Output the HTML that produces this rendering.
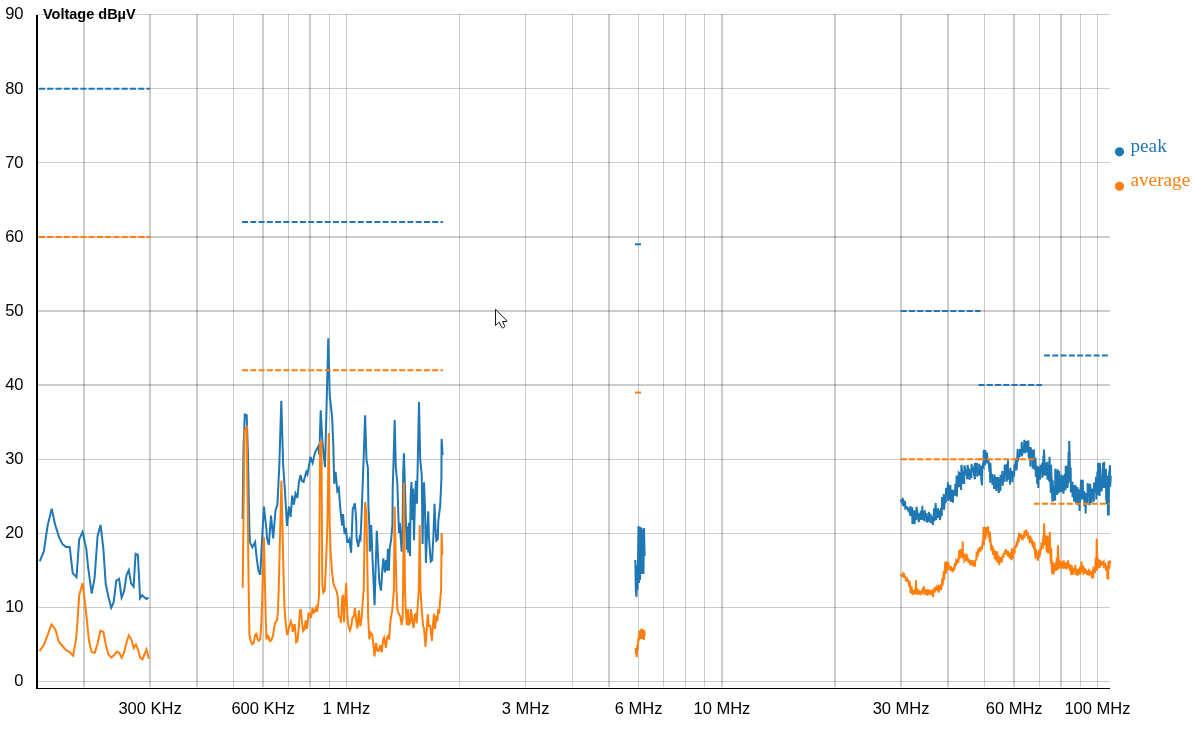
<!DOCTYPE html>
<html><head><meta charset="utf-8"><title>chart</title>
<style>html,body{margin:0;padding:0;background:#fff;overflow:hidden}svg{display:block;will-change:transform}</style></head>
<body>
<svg width="1195" height="736" viewBox="0 0 1195 736">
<rect width="1195" height="736" fill="#fff"/>
<g fill="#000" fill-opacity="0.2" shape-rendering="crispEdges">
<rect x="83" y="14" width="2" height="673"/>
<rect x="149" y="14" width="2" height="673"/>
<rect x="196" y="14" width="2" height="673"/>
<rect x="233" y="14" width="1" height="673"/>
<rect x="262" y="14" width="2" height="673"/>
<rect x="288" y="14" width="1" height="673"/>
<rect x="309" y="14" width="2" height="673"/>
<rect x="329" y="14" width="1" height="673"/>
<rect x="346" y="14" width="1" height="673"/>
<rect x="459" y="14" width="1" height="673"/>
<rect x="525" y="14" width="1" height="673"/>
<rect x="572" y="14" width="1" height="673"/>
<rect x="608" y="14" width="2" height="673"/>
<rect x="638" y="14" width="1" height="673"/>
<rect x="663" y="14" width="1" height="673"/>
<rect x="685" y="14" width="1" height="673"/>
<rect x="704" y="14" width="1" height="673"/>
<rect x="721" y="14" width="2" height="673"/>
<rect x="834" y="14" width="2" height="673"/>
<rect x="900" y="14" width="2" height="673"/>
<rect x="947" y="14" width="2" height="673"/>
<rect x="984" y="14" width="1" height="673"/>
<rect x="1013" y="14" width="2" height="673"/>
<rect x="1039" y="14" width="1" height="673"/>
<rect x="1060" y="14" width="2" height="673"/>
<rect x="1080" y="14" width="1" height="673"/>
<rect x="1097" y="14" width="1" height="673"/>
<rect x="37" y="681" width="1073" height="1"/>
<rect x="37" y="607" width="1073" height="1"/>
<rect x="37" y="533" width="1073" height="1"/>
<rect x="37" y="459" width="1073" height="1"/>
<rect x="37" y="384" width="1073" height="2"/>
<rect x="37" y="310" width="1073" height="2"/>
<rect x="37" y="236" width="1073" height="2"/>
<rect x="37" y="162" width="1073" height="1"/>
<rect x="37" y="88" width="1073" height="1"/>
<rect x="37" y="14" width="1073" height="1"/>
</g>
<rect x="36" y="15" width="2" height="674.0" fill="#000"/>
<rect x="36" y="688" width="1074.0" height="1" fill="#000"/>
<g font-family="'Liberation Sans', sans-serif" font-size="16.5px" fill="#000">
<text x="23.5" y="686.45" text-anchor="end">0</text>
<text x="23.5" y="612.34" text-anchor="end">10</text>
<text x="23.5" y="538.23" text-anchor="end">20</text>
<text x="23.5" y="464.12" text-anchor="end">30</text>
<text x="23.5" y="390.01" text-anchor="end">40</text>
<text x="23.5" y="315.89" text-anchor="end">50</text>
<text x="23.5" y="241.78" text-anchor="end">60</text>
<text x="23.5" y="167.67" text-anchor="end">70</text>
<text x="23.5" y="93.56" text-anchor="end">80</text>
<text x="23.5" y="19.45" text-anchor="end">90</text>
<text x="150.04" y="714" text-anchor="middle">300 KHz</text>
<text x="263.09" y="714" text-anchor="middle">600 KHz</text>
<text x="346.40" y="714" text-anchor="middle">1 MHz</text>
<text x="525.57" y="714" text-anchor="middle">3 MHz</text>
<text x="638.61" y="714" text-anchor="middle">6 MHz</text>
<text x="721.92" y="714" text-anchor="middle">10 MHz</text>
<text x="901.09" y="714" text-anchor="middle">30 MHz</text>
<text x="1014.14" y="714" text-anchor="middle">60 MHz</text>
<text x="1097.45" y="714" text-anchor="middle">100 MHz</text>
</g>
<text x="43" y="18.6" font-family="'Liberation Sans', sans-serif" font-size="14px" font-weight="bold" fill="#000" textLength="92.6" lengthAdjust="spacingAndGlyphs">Voltage dBµV</text>
<g font-family="'Liberation Serif', serif" font-size="19.2px">
<circle cx="1119.5" cy="151.8" r="4.6" fill="#1f77b4"/>
<text x="1130.5" y="151.8" fill="#1f77b4">peak</text>
<circle cx="1119.5" cy="186.3" r="4.6" fill="#ff7f0e"/>
<text x="1130.5" y="185.5" fill="#ff7f0e">average</text>
</g>
<g fill="none" stroke="#1f77b4" stroke-width="2">
<path d="M39.7,561.4L43.8,551.4L47.6,525.8L51.7,508.8L55.1,524.5L59.1,537.4L62.5,544.2L65.9,546.9L69.7,546.9L72.7,573.1L76.5,577.2L79.2,539.4L82.6,531.9L86.3,548.9L88.1,567.1L91.7,593.6L94.6,577.9L97.6,535.8L100.6,524.9L103.4,549.4L105.7,584.0L108.5,597.0L111.2,607.8L113.6,602.4L116.3,580.7L119.1,579.0L121.6,597.6L124.1,591.5L126.5,575.2L128.8,570.2L131.1,583.4L133.6,586.8L135.6,553.8L137.9,554.8L140.1,598.3L142.2,595.3L144.5,597.4L146.5,599.0L148.5,597.6"/>
<path d="M242.6,519.0L243.5,448.0L244.8,414.5L246.7,415.2L248.0,455.8L249.4,530.0L249.9,542.1L252.3,547.3L255.1,542.1L256.5,556.4L258.4,570.6L260.3,574.9L261.8,544.0L263.9,506.6L266.5,530.0L267.0,538.3L268.9,545.0L271.0,515.6L273.2,538.3L275.5,510.4L277.4,504.7L279.3,465.7L281.3,400.9L283.2,465.7L285.1,493.3L287.0,526.0L288.9,506.6L290.6,517.0L292.2,495.6L293.9,504.7L295.5,493.5L297.4,498.0L298.8,482.8L300.5,475.0L301.9,480.9L303.6,481.9L305.0,476.6L306.3,471.9L307.4,474.3L308.8,466.7L310.4,456.8L312.6,463.0L315.0,452.5L318.3,446.3L319.3,455.0L320.7,410.2L322.3,440.0L324.0,458.2L325.0,467.1L328.3,338.3L329.7,395.0L332.1,416.9L333.3,445.0L334.2,483.8L335.6,471.9L337.3,490.9L338.8,488.0L340.2,507.5L342.1,525.6L343.0,514.2L344.5,534.0L345.9,527.9L347.3,542.1L348.0,542.1L349.4,539.3L351.1,552.6L352.7,509.4L354.9,503.3L356.3,521.8L356.5,537.4L358.2,546.9L359.7,537.4L360.5,539.0L361.3,521.0L362.9,479.0L364.1,445.0L365.1,415.2L366.5,460.0L367.9,467.6L368.4,505.6L369.4,526.5L369.8,551.6L371.2,525.0L372.7,563.0L374.6,605.2L375.5,572.5L376.8,530.7L377.9,553.5L379.3,582.0L381.0,590.6L382.2,571.6L383.4,558.3L384.9,572.5L386.0,560.2L387.0,570.6L387.9,548.8L388.9,570.6L389.8,547.8L391.2,539.3L392.4,525.0L392.7,488.5L393.6,460.0L394.7,419.9L395.8,467.0L397.4,484.0L398.4,517.0L399.0,533.0L399.8,522.7L400.7,537.4L401.7,551.6L402.6,525.0L403.2,472.4L403.9,453.2L405.0,488.5L406.0,525.0L406.9,549.7L407.6,526.5L408.3,552.6L408.8,522.7L410.0,555.9L410.6,498.0L411.5,481.9L412.3,520.0L413.1,488.5L414.0,540.2L415.0,500.0L415.9,480.9L416.9,503.7L417.8,460.0L419.0,402.1L420.2,460.0L421.7,474.3L422.6,544.0L423.3,500.0L424.0,482.3L425.0,507.5L425.9,563.0L427.2,530.0L428.3,511.3L428.8,534.5L430.7,561.6L432.1,560.2L433.5,534.5L434.5,503.9L435.5,528.0L436.4,540.7L437.8,539.3L438.3,520.8L440.2,505.6L441.4,479.0L441.6,438.9L442.6,455.0"/>
<path d="M635.3,560.0L635.8,590.0L636.5,597.0L637.0,565.0L637.5,590.0L638.0,560.0L638.5,526.0L639.0,583.0L639.5,528.0L640.0,580.0L640.5,527.0L641.0,574.0L641.5,528.0L642.2,534.0L642.6,574.0L643.0,530.0L643.5,574.0L644.0,528.0L644.6,556.0"/>
<path d="M900.8,499.6L901.0,500.3L901.6,501.6L902.2,500.3L903.0,505.8L903.3,500.1L903.8,501.0L904.4,506.7L905.1,501.1L905.3,508.3L905.8,507.9L906.4,506.1L906.8,508.4L907.5,508.0L908.1,509.8L908.4,508.2L908.9,509.8L909.4,510.4L909.9,507.7L910.2,516.0L910.4,506.2L910.9,511.9L911.4,515.8L912.2,507.2L912.4,524.1L913.0,518.9L913.5,510.5L914.0,518.5L914.2,510.2L914.5,524.1L915.0,518.1L915.6,511.0L916.3,520.0L916.5,506.7L917.2,511.4L917.8,518.2L918.3,513.3L918.6,522.1L919.2,519.5L920.0,513.6L920.4,520.0L920.6,512.3L921.3,511.3L921.9,518.8L922.4,505.7L922.6,520.0L923.3,516.0L924.1,511.7L924.4,521.1L924.7,510.2L925.3,514.9L925.9,517.6L926.5,513.3L926.7,522.6L927.3,518.8L927.8,516.3L928.5,522.1L928.8,511.8L929.5,517.1L930.0,520.3L930.6,513.8L930.8,523.1L931.2,521.0L931.7,516.3L932.2,520.8L932.6,516.4L932.8,525.1L933.3,520.8L934.1,508.2L934.4,521.1L934.8,516.6L935.7,503.1L935.9,520.0L936.6,512.9L937.4,509.4L937.7,518.0L937.9,508.2L938.5,513.6L939.3,518.0L939.7,510.2L940.0,520.0L940.5,516.5L941.1,507.5L941.8,516.0L942.0,497.0L942.4,501.0L943.0,506.8L943.8,493.9L944.0,509.8L944.7,502.3L945.4,495.5L945.8,502.7L946.1,487.8L946.8,492.6L947.6,493.4L947.9,482.2L948.1,500.7L948.7,498.7L949.4,485.5L949.8,498.4L950.4,484.8L950.7,501.7L951.2,500.3L951.6,489.6L952.1,499.0L952.6,495.7L953.0,502.7L953.2,490.9L953.7,491.1L954.3,495.8L954.7,490.6L955.0,495.6L955.3,483.7L955.8,484.8L956.3,494.0L956.6,475.6L956.8,496.6L957.3,485.1L957.8,475.5L958.6,487.4L958.8,472.5L959.4,473.0L960.1,486.9L960.7,478.5L961.1,490.0L961.4,464.9L962.0,469.6L962.6,483.8L963.3,471.8L964.2,483.9L964.4,465.4L965.0,468.5L965.7,473.1L966.5,471.9L967.3,479.3L967.5,464.9L968.2,468.7L968.8,476.7L969.3,468.5L969.5,479.8L970.0,476.8L970.5,471.1L971.3,478.2L971.6,463.9L972.1,471.3L972.9,471.3L973.5,467.3L974.0,476.0L974.4,465.4L974.6,478.2L974.9,478.2L975.1,462.8L975.8,469.6L976.4,471.7L976.9,462.8L977.2,476.7L977.6,471.3L978.4,468.9L979.0,475.6L979.2,463.8L979.8,466.5L980.5,474.9L981.0,465.8L981.2,478.7L982.0,485.3L982.3,469.9L982.8,465.3L983.5,466.5L983.8,450.0L984.4,452.5L985.1,465.4L985.3,450.0L985.8,457.6L986.5,462.3L987.1,452.6L987.4,463.4L988.1,461.6L988.6,459.7L988.9,465.4L989.5,471.9L989.9,470.6L990.2,482.8L990.4,462.8L991.0,475.1L991.6,477.4L992.2,474.0L992.4,484.8L992.9,483.7L993.5,476.7L994.2,488.9L994.5,474.5L995.0,479.1L995.5,483.1L996.1,480.6L996.3,490.9L996.5,477.1L997.2,481.0L998.0,487.8L998.3,477.1L998.6,493.0L999.2,490.9L999.8,478.9L1000.4,490.9L1000.6,476.0L1001.3,476.4L1001.9,481.3L1002.4,470.9L1002.6,485.8L1003.2,479.6L1003.8,474.1L1004.4,481.7L1004.7,464.8L1005.3,467.8L1005.8,474.2L1006.5,463.8L1006.7,481.7L1007.3,472.9L1008.0,460.2L1008.2,479.7L1008.8,474.8L1009.4,470.7L1010.0,484.8L1010.3,467.9L1010.9,473.7L1011.5,476.5L1012.1,470.9L1012.3,482.3L1013.0,474.4L1013.6,471.2L1014.1,476.7L1014.4,465.8L1015.1,464.2L1015.5,469.4L1016.2,457.7L1016.4,470.5L1016.9,465.3L1017.7,449.0L1017.9,461.4L1018.6,454.6L1019.1,452.9L1019.7,457.3L1020.0,449.0L1020.5,451.7L1021.2,454.4L1021.8,441.9L1022.0,456.3L1022.6,451.2L1023.4,447.0L1023.9,450.2L1024.3,439.8L1024.6,453.2L1025.1,450.7L1025.7,445.4L1026.1,448.5L1026.4,440.9L1026.6,452.2L1027.0,450.4L1027.7,444.9L1028.2,447.6L1028.4,440.4L1028.6,456.3L1029.4,458.4L1029.9,447.0L1030.4,466.5L1030.7,447.5L1031.2,450.8L1031.8,458.4L1032.5,449.5L1032.7,468.5L1033.2,466.1L1034.0,449.5L1034.2,469.5L1034.9,465.2L1035.5,457.7L1035.8,476.7L1036.2,472.1L1036.8,465.9L1037.1,483.8L1037.3,465.8L1037.9,475.6L1038.3,487.9L1038.5,467.9L1039.2,468.5L1040.1,479.7L1040.4,464.8L1040.9,467.6L1041.6,471.0L1042.2,462.8L1042.4,477.7L1042.9,470.8L1043.4,456.1L1043.7,475.6L1043.9,449.5L1044.4,458.1L1044.9,472.1L1045.2,462.8L1045.5,475.6L1046.0,472.5L1046.5,465.9L1046.9,475.6L1047.3,461.8L1047.5,479.7L1048.2,473.7L1048.7,465.1L1049.3,481.7L1049.5,456.7L1050.0,471.6L1050.8,493.0L1051.1,464.8L1051.7,483.6L1052.4,501.6L1052.6,481.1L1052.8,481.4L1053.0,501.2L1053.7,488.6L1054.2,486.3L1055.1,500.7L1055.3,468.7L1055.9,476.7L1056.5,494.4L1057.0,472.2L1057.4,494.9L1057.6,469.3L1058.1,473.6L1058.6,482.8L1059.1,471.0L1059.4,492.6L1060.0,488.2L1060.5,477.0L1061.1,489.3L1061.4,474.5L1061.7,492.0L1062.2,483.5L1063.2,475.6L1063.4,493.7L1064.0,488.8L1064.8,474.1L1065.5,490.3L1065.7,465.8L1066.2,471.8L1066.8,481.7L1067.2,465.8L1067.4,487.9L1068.0,482.7L1068.6,452.2L1068.9,481.0L1069.2,441.0L1069.6,452.8L1070.2,482.8L1070.7,467.5L1070.9,492.6L1071.5,485.6L1072.4,481.4L1072.6,497.2L1073.3,491.5L1073.9,487.9L1074.1,501.8L1074.4,484.9L1074.9,492.0L1075.5,500.9L1075.9,485.5L1076.1,503.0L1076.8,497.3L1077.6,487.2L1077.8,504.1L1078.5,504.6L1079.3,489.5L1079.6,511.0L1080.2,496.8L1081.1,479.7L1081.3,499.5L1082.0,492.7L1082.8,479.7L1083.0,499.5L1083.7,495.9L1084.2,491.0L1084.5,506.4L1084.8,493.0L1085.3,495.2L1085.7,513.4L1085.9,493.0L1086.5,496.3L1087.4,504.1L1087.7,483.1L1088.3,489.7L1088.7,495.4L1089.5,490.2L1089.7,505.3L1090.0,483.7L1090.6,488.7L1091.5,503.0L1091.7,490.7L1092.2,490.1L1092.8,495.9L1093.3,491.9L1093.8,501.8L1094.0,482.6L1094.6,485.9L1095.2,492.3L1096.1,476.8L1096.3,499.5L1097.0,487.7L1097.4,471.4L1097.8,494.9L1098.1,462.9L1098.7,470.0L1099.6,496.0L1099.8,462.9L1100.2,470.6L1100.8,485.2L1101.3,477.9L1101.5,491.4L1102.2,486.0L1103.0,462.9L1103.3,487.9L1103.8,479.5L1104.2,461.8L1104.4,485.6L1105.1,487.7L1105.9,468.7L1106.2,499.5L1106.9,503.8L1107.6,475.6L1107.9,514.5L1108.8,514.5L1109.0,475.6L1110.0,465.2L1110.2,486.8L1110.8,476.0"/>
<g stroke-dasharray="6 2.27">
<path d="M39,88.66H150"/>
<path d="M242,222.06H443"/>
<path d="M635,244.29H641"/>
<path d="M900.7,310.99H980.5"/>
<path d="M978.5,385.11H1042"/>
<path d="M1044,355.46H1108.2"/>
</g></g>
<g fill="none" stroke="#ff7f0e" stroke-width="2">
<path d="M39.5,651.1L43.8,645.0L47.7,634.9L51.5,624.5L55.4,629.4L58.8,641.7L62.4,646.0L65.8,649.9L69.5,652.1L73.1,655.7L76.2,638.6L79.3,594.6L82.7,583.0L86.0,611.7L89.0,641.1L91.7,652.1L94.8,652.9L97.6,643.5L100.4,630.7L103.4,631.9L105.8,644.7L108.4,654.5L111.3,657.6L114.1,655.1L116.8,651.8L119.3,652.7L121.7,657.9L124.2,652.1L126.6,642.3L128.8,635.3L131.5,639.8L133.7,648.1L135.9,644.7L138.0,649.6L140.1,657.6L142.3,659.4L144.5,654.5L146.5,649.4L149.0,658.8"/>
<path d="M242.7,587.7L243.5,520.0L244.5,430.6L246.7,427.3L247.6,500.0L248.5,575.0L249.4,634.7L250.8,641.3L252.3,644.2L253.7,643.2L255.1,634.7L256.5,633.7L257.5,639.4L258.9,640.9L260.3,638.5L261.3,623.3L262.2,599.5L263.9,536.9L265.1,590.0L265.6,613.8L266.5,639.4L267.7,635.6L268.6,636.6L269.8,641.3L271.3,640.4L273.0,635.6L274.6,625.2L275.5,622.3L277.0,620.4L277.9,611.9L278.7,590.0L281.4,480.4L283.9,590.0L284.6,609.0L285.5,621.4L287.0,634.2L287.9,633.7L288.9,628.0L290.8,621.4L292.2,626.1L292.7,631.8L293.6,627.1L294.7,624.2L295.5,633.7L296.2,642.3L297.4,641.3L298.8,628.0L299.8,611.9L300.7,609.0L301.9,621.4L303.1,630.9L304.5,629.0L305.7,620.4L306.9,629.0L307.9,620.4L308.5,613.3L309.8,613.8L311.0,618.0L312.6,607.6L313.6,612.8L314.5,612.3L316.0,607.6L317.1,611.9L318.3,603.3L319.0,595.0L320.1,442.0L321.4,441.5L322.3,585.0L323.3,592.5L324.5,591.0L325.0,585.8L326.4,553.5L327.4,525.0L328.8,433.0L329.7,525.0L330.7,553.5L332.1,572.5L333.5,583.9L335.0,587.7L336.9,592.0L337.8,597.6L338.8,616.6L340.2,617.6L341.0,622.8L342.1,599.5L343.0,594.8L344.0,622.3L344.9,604.3L346.1,583.0L347.5,618.5L348.5,626.1L349.9,630.4L351.3,626.1L352.3,618.5L353.7,616.6L354.9,608.1L356.1,619.5L357.5,628.5L358.9,610.4L360.3,626.1L361.8,616.6L362.9,599.5L363.7,590.0L365.1,502.0L366.5,515.0L367.5,575.0L368.2,618.5L369.4,639.4L370.8,632.8L372.2,634.7L373.2,643.2L374.6,656.5L376.0,642.8L377.4,650.8L378.9,650.8L380.3,645.1L381.7,652.3L383.2,639.4L384.1,637.5L385.1,643.2L386.0,648.0L387.0,637.5L388.4,635.6L389.3,639.4L389.8,628.0L390.8,618.5L392.2,610.4L393.1,599.5L393.9,590.0L394.6,506.6L396.5,590.0L397.4,609.0L398.8,613.8L400.3,616.6L401.7,625.2L402.6,618.5L403.1,590.0L403.9,482.8L405.0,590.0L405.7,609.0L406.9,625.2L407.9,609.0L408.8,625.2L410.2,622.3L411.0,609.0L412.1,618.5L413.6,628.0L414.8,614.7L415.9,613.8L416.7,623.3L417.8,604.3L418.8,590.0L419.7,525.1L420.5,590.0L421.7,609.0L423.1,626.1L424.0,628.0L425.5,647.0L426.9,628.0L427.8,614.2L428.8,626.1L430.2,626.1L431.9,640.9L433.1,623.3L434.0,613.8L435.0,629.0L436.4,615.7L437.3,621.4L438.3,609.0L439.2,613.8L440.2,599.5L441.1,590.0L441.6,533.1L442.4,554.5"/>
<path d="M635.5,648.0L636.0,652.0L636.8,657.0L637.3,645.0L637.8,650.0L638.3,638.0L638.8,641.0L639.3,631.0L639.8,639.0L640.3,630.0L640.8,639.0L641.3,628.5L641.8,638.0L642.3,629.0L642.8,639.0L643.3,630.0L643.8,640.0L644.3,630.0L644.6,636.0"/>
<path d="M900.8,574.6L901.0,575.3L901.6,575.5L902.5,574.1L902.8,577.3L903.3,576.0L904.1,573.1L904.3,576.8L904.8,577.1L905.6,577.2L905.8,580.4L906.5,580.6L907.1,579.5L907.6,581.9L907.9,580.2L908.5,580.9L909.2,587.0L909.4,580.8L910.2,585.3L910.4,592.6L911.0,590.7L911.7,586.4L911.9,594.1L912.4,592.4L912.8,590.0L913.2,595.1L913.5,590.4L913.9,591.4L914.5,592.2L914.8,589.4L915.0,594.1L915.6,591.0L916.0,580.2L916.2,594.1L916.8,592.4L917.3,588.4L917.5,594.6L918.3,592.4L919.0,591.6L919.3,594.6L919.6,591.5L920.1,591.6L920.8,593.5L921.6,591.5L921.9,594.1L922.1,590.4L922.8,589.2L923.3,590.7L923.9,586.4L924.2,593.1L924.9,592.4L925.5,589.4L925.7,594.6L926.3,592.6L926.9,590.1L927.5,595.6L927.7,589.4L928.5,592.0L929.0,594.0L929.5,589.9L929.8,594.6L930.2,592.7L930.7,591.8L931.3,594.3L931.6,590.4L931.8,595.1L932.3,593.6L932.8,591.0L933.1,597.2L933.3,588.4L933.9,591.7L934.6,591.8L935.1,586.9L935.4,591.1L935.9,589.8L936.6,588.1L937.2,590.5L937.4,586.4L938.2,587.3L938.7,592.6L939.0,586.4L939.6,586.9L940.2,590.2L940.8,584.3L941.0,590.0L941.6,586.8L942.3,578.2L942.5,586.0L943.1,581.0L943.8,571.1L944.0,579.8L944.6,573.6L945.3,561.9L945.6,573.7L946.1,570.9L946.9,561.4L947.1,570.7L947.8,568.1L948.4,562.4L948.6,568.6L949.3,566.6L949.8,567.3L950.4,570.7L950.7,566.0L951.3,567.9L951.8,571.2L952.5,568.0L952.7,572.2L953.2,569.7L953.8,568.1L954.5,570.2L954.8,563.9L955.3,563.4L956.0,565.6L956.3,560.4L956.7,561.0L957.4,562.1L958.1,559.3L958.3,563.0L958.8,557.5L959.3,549.7L959.5,558.4L960.0,556.4L960.6,550.5L961.1,557.4L961.4,549.7L961.9,549.8L962.4,553.5L962.7,541.5L962.9,556.4L963.6,555.2L964.2,554.8L964.4,561.0L965.1,560.0L965.5,554.8L966.2,561.0L966.5,553.7L967.1,558.4L967.6,559.6L968.3,557.8L968.5,562.0L969.2,562.3L970.0,560.0L970.3,565.6L970.6,559.9L971.2,562.6L971.9,563.2L972.9,560.4L973.1,565.1L973.8,564.6L974.5,563.6L974.9,566.8L975.1,561.1L975.7,560.1L976.4,559.7L976.6,552.9L977.3,553.5L977.9,554.6L978.2,549.9L978.8,550.4L979.3,551.0L980.0,546.8L980.2,551.5L980.9,548.8L981.5,547.3L982.0,549.5L982.3,544.8L982.8,541.7L983.3,540.1L983.5,526.9L983.8,545.4L984.4,537.8L985.1,526.9L985.3,539.3L986.0,533.4L986.6,527.4L986.8,533.1L987.6,532.8L988.1,526.4L988.4,535.2L988.9,534.5L989.4,531.9L989.7,542.3L989.9,531.5L990.5,540.4L991.2,550.5L991.4,544.8L992.0,548.0L992.5,551.5L992.7,546.3L993.0,554.6L993.7,552.3L994.2,549.3L994.5,557.6L995.1,557.1L995.8,550.9L996.0,560.7L996.6,556.8L997.3,551.4L997.5,562.7L998.2,558.7L998.7,557.0L999.3,565.3L999.6,558.0L1000.1,558.9L1000.7,561.4L1001.4,557.0L1001.6,562.7L1002.2,558.6L1003.0,555.5L1003.4,557.6L1003.7,552.9L1004.1,554.1L1004.6,553.8L1005.2,551.0L1005.5,553.5L1005.7,549.3L1006.1,550.4L1006.7,554.3L1007.5,550.9L1007.7,555.6L1008.2,555.8L1008.7,553.9L1009.3,556.1L1009.5,552.9L1009.8,558.6L1010.5,555.4L1011.2,552.2L1011.6,560.2L1011.8,549.9L1012.3,550.5L1013.1,558.6L1013.3,549.3L1014.0,548.9L1014.6,553.5L1014.9,545.8L1015.4,547.1L1016.0,546.9L1016.7,541.7L1016.9,546.4L1017.5,542.5L1018.2,537.1L1018.7,542.3L1019.0,534.1L1019.6,534.7L1020.2,538.2L1020.5,533.5L1021.1,536.5L1021.7,537.9L1022.3,535.1L1022.5,540.3L1023.2,536.3L1023.8,534.5L1024.3,538.2L1024.6,530.5L1025.2,533.1L1025.9,533.3L1026.4,529.5L1026.6,534.7L1027.3,533.9L1027.9,533.5L1028.1,537.7L1028.7,537.3L1029.3,538.0L1029.9,543.3L1030.2,535.6L1030.7,537.6L1031.3,541.9L1032.0,539.2L1032.2,544.4L1032.8,545.6L1033.5,541.7L1034.0,549.5L1034.2,541.7L1034.7,546.5L1035.5,558.6L1035.8,548.8L1036.2,551.4L1036.9,556.4L1037.6,552.9L1037.8,560.7L1038.5,555.2L1039.1,549.9L1039.3,557.6L1040.1,553.8L1040.6,548.2L1041.1,550.5L1041.4,544.3L1042.0,545.0L1042.7,546.4L1042.9,541.7L1043.6,534.9L1043.9,545.4L1044.1,523.4L1044.7,536.8L1045.2,545.4L1045.5,535.6L1046.0,541.5L1046.7,552.5L1047.0,535.6L1047.6,541.8L1048.3,553.5L1048.5,536.6L1049.1,539.9L1049.5,553.5L1049.7,532.0L1050.2,548.6L1050.8,563.7L1051.1,547.8L1051.6,562.2L1051.9,571.0L1052.4,573.9L1052.6,562.1L1053.3,564.5L1053.6,574.5L1054.2,569.6L1054.6,566.3L1055.2,567.2L1055.7,562.2L1055.9,571.0L1056.4,566.6L1056.9,557.5L1057.6,569.9L1057.9,545.4L1058.6,558.5L1059.1,568.7L1059.4,561.0L1059.9,563.8L1060.6,567.6L1061.4,561.0L1061.7,568.7L1062.1,567.4L1062.6,563.8L1063.2,566.8L1063.7,560.4L1064.0,568.7L1064.4,565.6L1064.9,563.6L1065.5,567.8L1066.1,562.2L1066.3,569.3L1066.9,567.0L1067.5,563.3L1067.8,568.1L1068.0,560.4L1068.5,564.4L1069.2,568.0L1069.5,563.9L1069.8,571.0L1070.4,568.9L1070.9,568.6L1071.3,575.1L1071.5,565.1L1072.2,568.7L1073.0,574.5L1073.2,569.1L1073.9,568.9L1074.8,570.7L1075.3,565.1L1075.5,575.1L1076.0,571.7L1076.6,568.6L1077.3,573.9L1077.6,570.3L1077.8,575.6L1078.3,573.8L1079.0,568.9L1079.5,572.0L1079.9,566.8L1080.2,574.5L1080.9,571.6L1081.6,561.6L1081.9,571.0L1082.6,569.4L1083.4,565.6L1083.6,573.3L1084.1,572.6L1084.6,568.3L1085.1,573.3L1085.4,569.1L1085.9,571.1L1086.4,573.8L1086.8,570.3L1087.1,575.1L1087.8,572.6L1088.6,570.9L1089.2,575.6L1089.4,570.3L1090.1,572.2L1090.8,574.9L1091.5,571.4L1091.7,576.2L1092.3,575.3L1093.0,569.9L1093.2,578.5L1093.4,568.5L1094.1,569.5L1094.9,573.3L1095.2,567.9L1095.8,557.7L1096.4,571.0L1096.7,538.5L1097.2,554.4L1097.8,568.7L1098.1,558.7L1098.8,563.3L1099.6,568.1L1099.8,559.9L1100.5,562.6L1101.1,563.9L1101.9,561.0L1102.1,564.1L1102.8,563.6L1103.6,562.2L1103.8,566.4L1104.6,565.6L1105.3,564.5L1105.6,568.1L1106.3,570.7L1107.1,565.6L1107.3,577.9L1108.2,578.5L1108.5,561.0L1109.1,565.5L1109.4,568.7L1109.6,560.4L1110.3,563.4"/>
<g stroke-dasharray="6 2.27">
<path d="M39,236.88H150"/>
<path d="M242,370.28H443"/>
<path d="M635,392.52H641"/>
<path d="M900.7,459.22H980.5"/>
<path d="M978.5,459.22H1034.2"/>
<path d="M1033.7,503.68H1109.8"/>
</g></g>
<path d="M495.5,309.4L495.5,325.5L499.2,322.2L501.6,327.2Q502.6,328.4 503.8,327.6Q505.2,327 504.5,325.6L502.6,321.5L506.8,321.5L506.8,320.5Z" fill="#fff" stroke="#14141e" stroke-width="1" stroke-linejoin="round"/>
</svg>
</body></html>
